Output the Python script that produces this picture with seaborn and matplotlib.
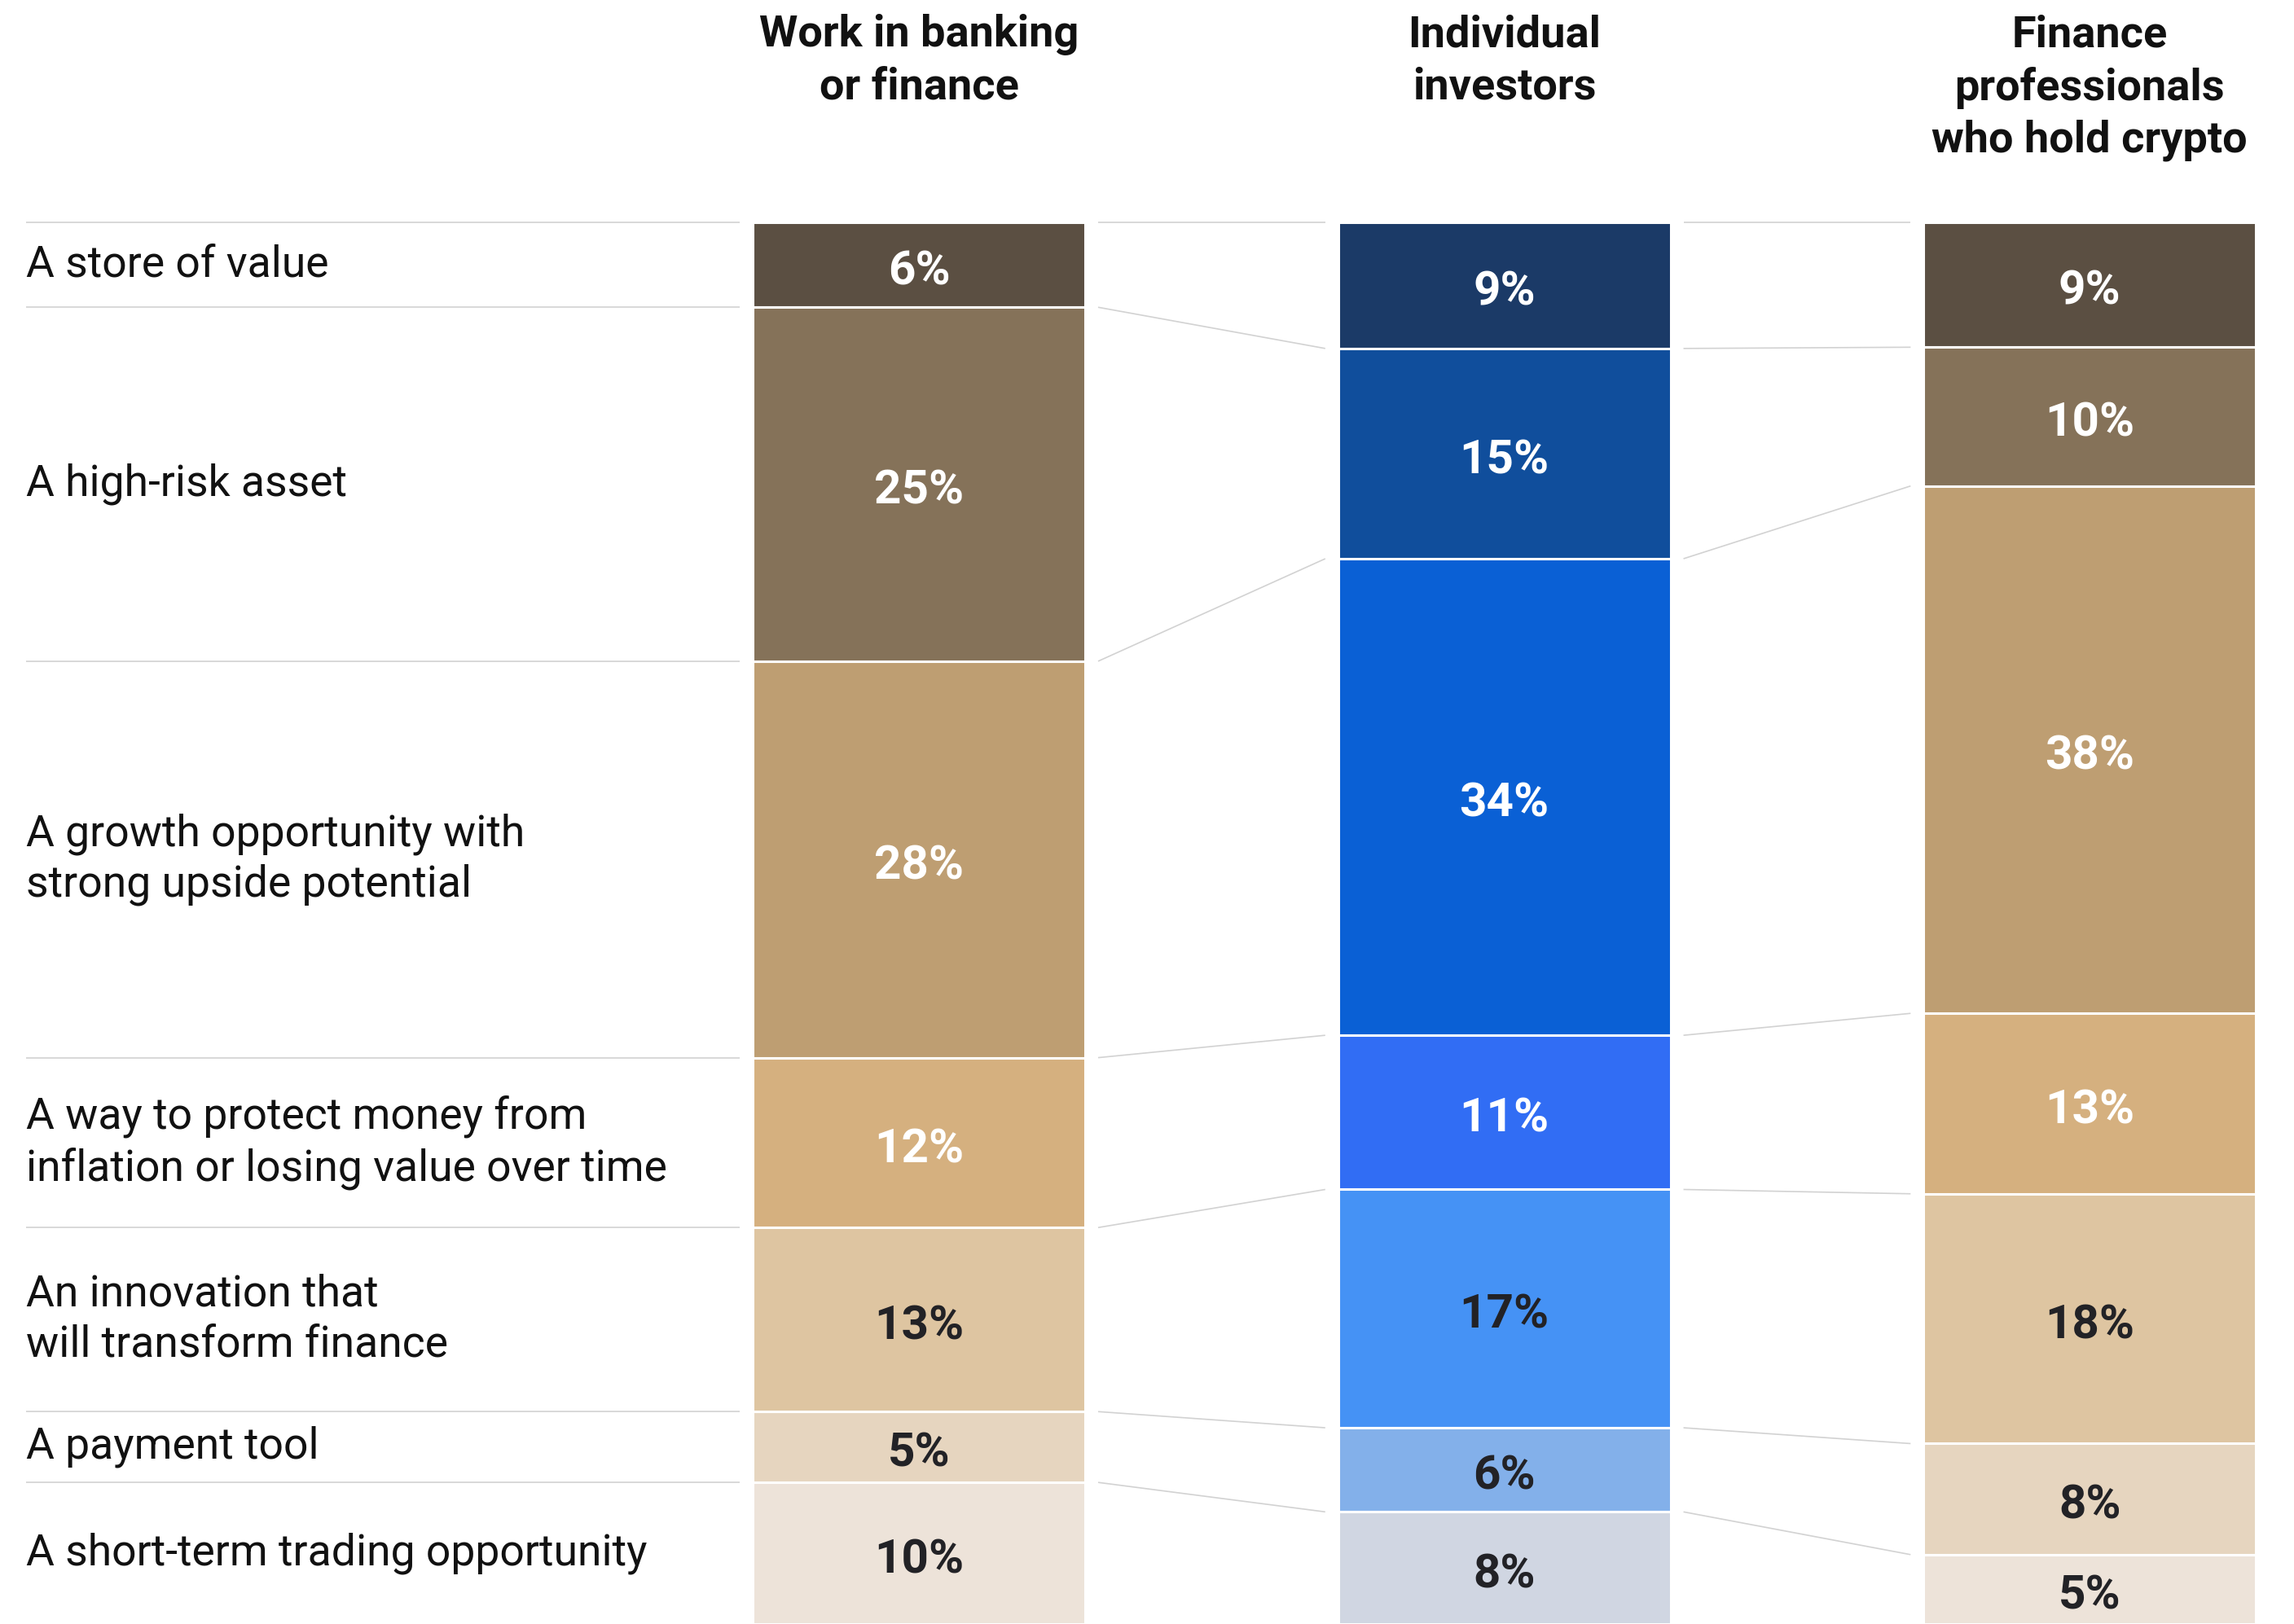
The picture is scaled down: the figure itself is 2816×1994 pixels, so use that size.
import matplotlib
matplotlib.use("Agg")
import matplotlib.pyplot as plt
import numpy as np
import seaborn as sns

# ── Data ──────────────────────────────────────────────────────────────────────
groups = [
    "Work in banking\nor finance",
    "Individual\ninvestors",
    "Finance\nprofessionals\nwho hold crypto",
]
categories = [
    "A store of value",
    "A high-risk asset",
    "A growth opportunity with\nstrong upside potential",
    "A way to protect money from\ninflation or losing value over time",
    "An innovation that\nwill transform finance",
    "A payment tool",
    "A short-term trading opportunity",
]
banking = [6, 25, 28, 12, 13, 5, 10]
investors = [9, 15, 34, 11, 17, 6, 8]
crypto_pros = [9, 10, 38, 13, 18, 8, 5]

brown_palette = ["#5B4F42", "#857259", "#BE9E72", "#D5B07F", "#DEC5A1", "#E6D5BF", "#EDE3D9"]
blue_palette = ["#1B3A67", "#104E9C", "#0A60D5", "#316DF4", "#4592F5", "#83B0EA", "#D0D6E2"]
label_colors = ["white", "white", "white", "white", "#222226", "#222226", "#222226"]

# ── Layout ────────────────────────────────────────────────────────────────────
BAR_W = 0.568
LINE_C = "#D2D2D2"
GAP = 0.022

sns.set_theme(style="white")
plt.rcParams["font.family"] = ["Roboto", "DejaVu Sans"]

fig = plt.figure(figsize=(28.16, 19.94), dpi=100)
ax = fig.add_axes([0, 0, 1, 1])

values = np.array([banking, investors, crypto_pros], dtype=float)
shares = values / values.sum(axis=1, keepdims=True)
tops = np.cumsum(shares, axis=1) - shares
column_palettes = [brown_palette, blue_palette, brown_palette]

# ── Stacked bars, one layer per category ──────────────────────────────────────
for i in range(len(categories)):
    n_before = len(ax.patches)
    sns.barplot(
        x=groups, y=shares[:, i], order=groups, bottom=tops[:, i],
        color=brown_palette[i], width=BAR_W, errorbar=None,
        edgecolor="white", linewidth=2.2, ax=ax,
    )
    for patch, pal in zip(ax.patches[n_before:], column_palettes):
        patch.set_facecolor(pal[i])

# ── Value labels ──────────────────────────────────────────────────────────────
for j in range(len(groups)):
    for i in range(len(categories)):
        ax.text(j, tops[j, i] + shares[j, i] / 2 + 0.005, f"{int(values[j, i])}%",
                ha="center", va="center", fontsize=42, fontweight="bold",
                color=label_colors[i])

# ── Column headers ────────────────────────────────────────────────────────────
for j, g in enumerate(groups):
    ax.text(j, -0.1485, g, ha="center", va="top", fontsize=39,
            fontweight="bold", color="#111111", linespacing=1.32)

# ── Category labels and row rules ─────────────────────────────────────────────
left_x0, left_x1 = -1.525, -0.5 * BAR_W - GAP
for y in tops[0]:
    ax.plot([left_x0, left_x1], [y, y], color=LINE_C, lw=1.2, solid_capstyle="butt")
for i, cat in enumerate(categories):
    ax.text(left_x0, tops[0, i] + shares[0, i] / 2, cat, ha="left", va="center",
            fontsize=38.5, color="#111111", linespacing=1.28)

# ── Connectors between columns ────────────────────────────────────────────────
for j in range(len(groups) - 1):
    xa = j + 0.5 * BAR_W + GAP
    xb = j + 1 - 0.5 * BAR_W - GAP
    for k in range(len(categories)):
        ax.plot([xa, xb], [tops[j, k], tops[j + 1, k]], color=LINE_C, lw=1.2,
                solid_capstyle="butt")

ax.set_xlim(-1.570, 2.349)
ax.set_ylim(1.0, -0.1586)
ax.axis("off")

fig.savefig("out.png", dpi=100)
